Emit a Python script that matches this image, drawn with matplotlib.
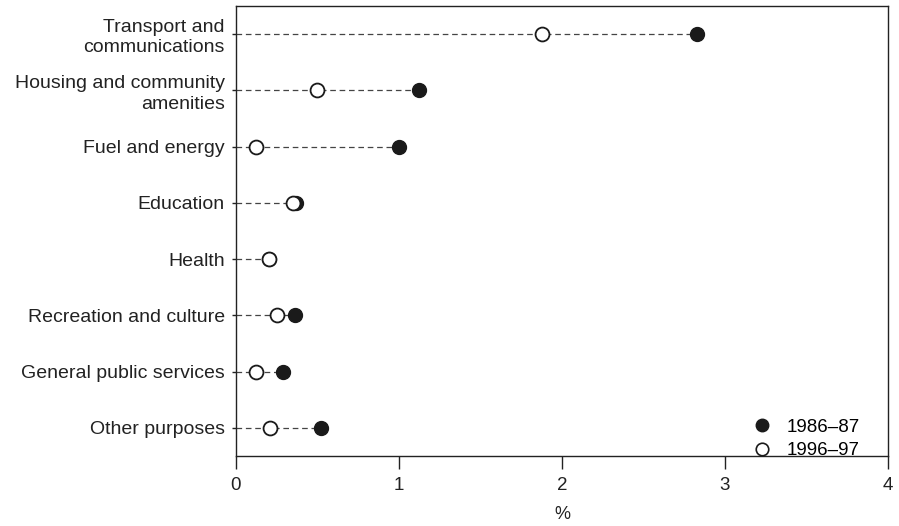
import matplotlib.pyplot as plt
from matplotlib.lines import Line2D

# ----------------------------------------------------
# DATA (% values)
# ----------------------------------------------------
categories = [
    "Transport and\ncommunications",
    "Housing and community\namenities",
    "Fuel and energy",
    "Education",
    "Health",
    "Recreation and culture",
    "General public services",
    "Other purposes",
]
vals_8687 = [2.83, 1.12, 1.00, 0.37, 0.20, 0.36, 0.29, 0.52]
vals_9697 = [1.88, 0.50, 0.12, 0.35, 0.20, 0.25, 0.12, 0.21]
x_ticks = [0, 1, 2, 3, 4]

plt.rcParams['font.family'] = ['Liberation Sans', 'DejaVu Sans']

fig = plt.figure(figsize=(8.99, 5.26), dpi=100)
ax = fig.add_axes([0.2625, 0.1331, 0.7253, 0.8555])

ypos = list(range(len(categories)))

# dashed guide lines from zero to the larger value
for y, a, b in zip(ypos, vals_8687, vals_9697):
    ax.plot([0, max(a, b)], [y, y], color="#444444", lw=0.9,
            dashes=(4.5, 3), zorder=1)

ax.plot(vals_8687, ypos, "o", ms=10, color="#1a1a1a", mec="#1a1a1a",
        ls="none", zorder=2)
ax.plot(vals_9697, ypos, "o", ms=10, mfc="white", mec="#1a1a1a",
        mew=1.3, ls="none", zorder=3)

ax.set_xlim(0, 4)
ax.set_ylim(len(categories) - 0.5, -0.5)
ax.set_xticks(x_ticks)
ax.set_xticklabels([str(t) for t in x_ticks], fontsize=13.5)
ax.set_yticks(ypos)
ax.set_yticklabels(categories, fontsize=14, linespacing=1.25)
ax.tick_params(axis="x", direction="out", length=9, width=1, pad=6, colors="#222222")
ax.tick_params(axis="y", direction="out", length=3, width=1, pad=5, colors="#222222")
ax.set_xlabel("%", fontsize=13, color="#222222", labelpad=9)

for s in ax.spines.values():
    s.set_linewidth(1.0)
    s.set_color("#222222")

handles = [
    Line2D([], [], marker="o", ls="none", ms=9, color="#1a1a1a"),
    Line2D([], [], marker="o", ls="none", ms=9, mfc="white", mec="#1a1a1a", mew=1.2),
]
ax.legend(handles, ["1986\u201387", "1996\u201397"], loc="lower right",
          frameon=False, fontsize=13.5, handletextpad=0.3,
          bbox_to_anchor=(0.982, -0.045), labelspacing=0.35)

plt.savefig("out.png", dpi=100)
plt.close()
